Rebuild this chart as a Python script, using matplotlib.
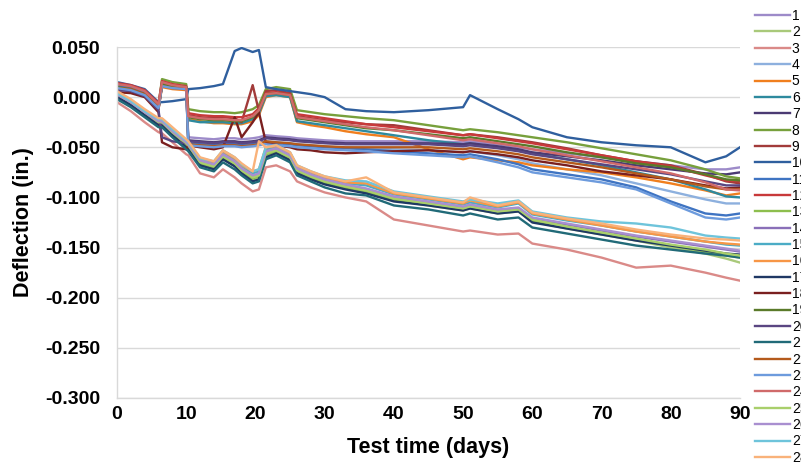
import matplotlib
matplotlib.use("Agg")
import matplotlib.pyplot as plt
import numpy as np

plt.rcParams['font.family'] = ['Liberation Sans', 'DejaVu Sans']

# Sample days (test time, days)
days = [0, 2, 4, 6, 6.5, 8, 10, 10.3, 12, 14, 15.3, 17, 18, 19.6, 20.5, 21.5, 23, 25, 26, 28,
        30, 33, 36, 40, 45, 50, 51, 55, 58, 60, 65, 70, 75, 80, 85, 88, 90]

# Deflection values in thousandths of an inch
s01 = [12, 10, 5, -8, 14, 12, 10, -40, -41, -42, -41, -41, -42, -41, -40, -38, -39, -40, -41, -42,
       -43, -44, -44, -44, -44, -45, -44, -47, -50, -52, -56, -60, -64, -68, -72, -72, -70]
s02 = [1, -7, -17, -27, -27, -37, -48, -50, -67, -71, -61, -68, -75, -82, -80, -58, -55, -62, -75, -81,
       -86, -91, -95, -103, -108, -113, -111, -116, -114, -124, -131, -137, -143, -150, -156, -161, -165]
s03 = [-5, -14, -25, -35, -36, -45, -57, -58, -76, -80, -72, -80, -86, -94, -92, -70, -68, -74, -84, -90,
       -95, -100, -104, -122, -128, -134, -133, -137, -136, -146, -152, -160, -170, -168, -175, -180, -183]
s04 = [10, 8, 3, -10, 12, 10, 9, -45, -46, -47, -46, -46, -47, -46, -45, -44, -45, -46, -47, -48,
       -49, -50, -51, -52, -53, -55, -54, -58, -62, -66, -72, -78, -86, -94, -102, -106, -106]
s05 = [9, 7, 2, -12, 10, 8, 7, -22, -24, -26, -26, -27, -27, -24, -18, 0, 2, 0, -25, -28,
       -30, -34, -37, -40, -52, -62, -60, -63, -65, -68, -72, -75, -80, -86, -93, -98, -96]
s06 = [11, 9, 5, -9, 12, 10, 9, -23, -25, -25, -25, -26, -26, -22, -16, 1, 2, 0, -24, -26,
       -28, -31, -34, -38, -43, -47, -46, -50, -53, -56, -62, -68, -75, -82, -92, -99, -100]
s07 = [8, 7, 2, -11, 12, 10, 9, -43, -44, -45, -44, -44, -45, -44, -43, -40, -41, -42, -43, -44,
       -45, -46, -46, -46, -46, -47, -46, -49, -52, -55, -59, -63, -68, -72, -76, -77, -75]
s08 = [12, 10, 6, -8, 18, 15, 13, -12, -14, -15, -15, -16, -15, -12, -8, 8, 10, 8, -13, -15,
       -17, -19, -21, -23, -28, -33, -32, -35, -38, -40, -45, -51, -57, -63, -72, -79, -81]
s09 = [8, 9, 4, -12, 12, 10, 9, -18, -20, -21, -20, -21, -25, 12, -14, 6, 7, 4, -19, -21,
       -23, -25, -27, -28, -33, -38, -37, -40, -43, -45, -51, -58, -64, -68, -77, -84, -86]
s10 = [15, 12, 8, -5, -5, -4, -2, 8, 9, 11, 13, 46, 49, 45, 47, 10, 8, 6, 5, 3,
       0, -12, -14, -15, -13, -10, 2, -12, -22, -30, -40, -45, -48, -50, -65, -59, -50]
s11 = [11, 9, 4, -9, 13, 11, 10, -46, -47, -48, -47, -47, -48, -47, -46, -45, -46, -47, -48, -49,
       -50, -51, -52, -54, -56, -58, -57, -62, -67, -72, -77, -82, -90, -104, -116, -118, -116]
s12 = [14, 12, 7, -6, 16, 13, 11, -16, -18, -19, -19, -20, -20, -17, -11, 4, 5, 3, -17, -19,
       -21, -24, -27, -30, -34, -38, -37, -41, -44, -46, -52, -58, -64, -69, -78, -83, -84]
s13 = [2, -6, -16, -26, -26, -36, -47, -49, -66, -70, -60, -67, -74, -81, -79, -57, -54, -61, -74, -80,
       -85, -90, -94, -102, -107, -112, -110, -115, -113, -123, -130, -136, -142, -148, -154, -158, -160]
s14 = [2, -6, -16, -26, -26, -35, -46, -48, -64, -68, -58, -65, -72, -79, -77, -55, -52, -59, -72, -78,
       -83, -88, -92, -100, -105, -110, -108, -113, -111, -121, -127, -133, -139, -144, -149, -152, -154]
s15 = [4, -4, -14, -23, -23, -33, -44, -46, -62, -66, -55, -62, -69, -76, -74, -52, -50, -57, -70, -76,
       -81, -86, -88, -97, -102, -107, -105, -110, -106, -117, -123, -128, -134, -139, -144, -147, -148]
s16 = [5, -3, -13, -22, -22, -32, -43, -45, -61, -65, -54, -61, -68, -74, -72, -50, -49, -56, -69, -75,
       -80, -85, -86, -96, -101, -106, -103, -109, -105, -116, -122, -128, -134, -139, -144, -146, -147]
s17 = [0, -8, -18, -28, -28, -38, -50, -52, -68, -72, -62, -69, -76, -84, -82, -60, -56, -63, -76, -82,
       -87, -92, -96, -104, -108, -113, -111, -116, -114, -125, -131, -137, -143, -148, -153, -156, -157]
s18 = [5, 4, 0, -15, -45, -50, -52, -48, -50, -52, -50, -20, -40, -25, -15, -45, -48, -50, -52, -53,
       -55, -56, -55, -54, -53, -55, -54, -57, -60, -63, -68, -74, -78, -82, -88, -91, -90]
s19 = [10, 8, 3, -10, 13, 11, 10, -20, -22, -23, -23, -24, -24, -20, -13, 3, 4, 2, -21, -23,
       -25, -28, -31, -33, -37, -41, -40, -44, -47, -49, -55, -60, -66, -70, -77, -82, -83]
s20 = [7, 6, 1, -13, -40, -44, -46, -44, -45, -46, -45, -45, -46, -45, -44, -41, -42, -43, -44, -45,
       -46, -47, -47, -47, -47, -49, -48, -51, -54, -57, -62, -67, -72, -77, -84, -88, -88]
s21 = [-2, -10, -20, -30, -30, -40, -52, -54, -70, -74, -65, -72, -78, -86, -84, -62, -58, -65, -78, -84,
       -90, -96, -98, -108, -112, -118, -116, -122, -120, -130, -136, -142, -148, -152, -156, -158, -160]
s22 = [9, 8, 3, -10, 11, 9, 8, -47, -48, -49, -48, -48, -49, -48, -47, -44, -45, -46, -47, -48,
       -49, -50, -50, -50, -50, -52, -51, -54, -57, -60, -65, -70, -76, -82, -89, -92, -92]
s23 = [9, 7, 2, -11, 11, 9, 8, -48, -49, -50, -49, -49, -50, -49, -48, -47, -48, -49, -50, -51,
       -52, -53, -54, -56, -58, -60, -59, -65, -70, -75, -80, -85, -92, -106, -120, -122, -120]
s24 = [13, 11, 6, -7, 15, 12, 10, -19, -21, -22, -22, -23, -23, -19, -13, 3, 4, 2, -20, -22,
       -24, -27, -30, -33, -38, -43, -42, -46, -49, -52, -58, -64, -70, -76, -85, -92, -93]
s25 = [3, -5, -15, -25, -25, -35, -46, -48, -65, -69, -59, -66, -73, -80, -78, -56, -53, -60, -73, -79,
       -84, -89, -93, -101, -106, -111, -109, -114, -112, -122, -129, -135, -141, -147, -152, -156, -158]
s26 = [3, -5, -15, -24, -24, -34, -45, -47, -63, -67, -57, -64, -71, -78, -76, -54, -51, -58, -71, -77,
       -82, -87, -91, -99, -104, -109, -107, -112, -110, -120, -126, -132, -138, -143, -148, -151, -153]
s27 = [4, -4, -14, -22, -22, -32, -43, -45, -61, -64, -53, -60, -67, -74, -72, -50, -48, -55, -68, -74,
       -79, -83, -84, -94, -99, -104, -102, -106, -103, -114, -120, -124, -126, -130, -138, -140, -141]
s28 = [6, -2, -12, -21, -21, -30, -42, -44, -60, -64, -53, -60, -66, -74, -44, -50, -48, -55, -68, -74,
       -79, -84, -80, -95, -100, -105, -100, -108, -104, -115, -121, -126, -132, -137, -141, -142, -143]

series = [s01, s02, s03, s04, s05, s06, s07, s08, s09, s10, s11, s12, s13, s14,
          s15, s16, s17, s18, s19, s20, s21, s22, s23, s24, s25, s26, s27, s28]
labels = [str(i) for i in range(1, 29)]

colors = ['#9D8BC9', '#A9C97A', '#DA8A88', '#8DB0DE', '#F07F1E', '#2E8A9E', '#4B3A73',
          '#77A03C', '#A23B3A', '#2F5F9E', '#3F74C2', '#C8393A', '#8DBE4E', '#8A6FB8',
          '#4BACC6', '#F79646', '#1F3864', '#7A1F1F', '#5A7A2A', '#5A4682', '#216A78',
          '#B45A1C', '#6D9BDD', '#D06A6A', '#A9CF6B', '#A98FD0', '#6EC4DB', '#F9B27A']

yticks = [0.05, 0.0, -0.05, -0.10, -0.15, -0.20, -0.25, -0.30]
xticks = [0, 10, 20, 30, 40, 50, 60, 70, 80, 90]

fig = plt.figure(figsize=(8.01, 4.70), dpi=100)
ax = fig.add_axes([117/801, 1-398/470, (740-117)/801, (398-47)/470])

handles = []
for vals, c, lab in zip(series, colors, labels):
    h, = ax.plot(days, np.array(vals) / 1000.0, color=c, lw=1.7, label=lab,
                 solid_joinstyle='round')
    handles.append(h)

ax.set_xlim(0, 90)
ax.set_ylim(-0.30, 0.05)
ax.set_xticks(xticks)
ax.set_yticks(yticks)
ax.set_yticklabels([f"{v:.3f}" for v in yticks])
ax.tick_params(axis='both', length=0, labelsize=14)
ax.tick_params(axis='y', pad=12)
ax.tick_params(axis='x', pad=6)
for lbl in ax.get_xticklabels() + ax.get_yticklabels():
    lbl.set_fontweight('bold')

ax.grid(axis='y', color='#D9D9D9', lw=1)
ax.set_axisbelow(True)
for side in ['top', 'right']:
    ax.spines[side].set_visible(False)
for side in ['left', 'bottom']:
    ax.spines[side].set_color('#D9D9D9')
    ax.spines[side].set_linewidth(1)

ax.set_xlabel('Test time (days)', fontsize=15.5, fontweight='bold', labelpad=10)
ax.set_ylabel('Deflection (in.)', fontsize=15.5, fontweight='bold', labelpad=8)

fig.legend(handles, labels, loc='upper left', bbox_to_anchor=(755/801, 1 - 9/470),
           frameon=False, fontsize=10, handlelength=2.5, handletextpad=0.15,
           labelspacing=0.17, borderpad=0, borderaxespad=0)

fig.savefig('out.png', dpi=100)
